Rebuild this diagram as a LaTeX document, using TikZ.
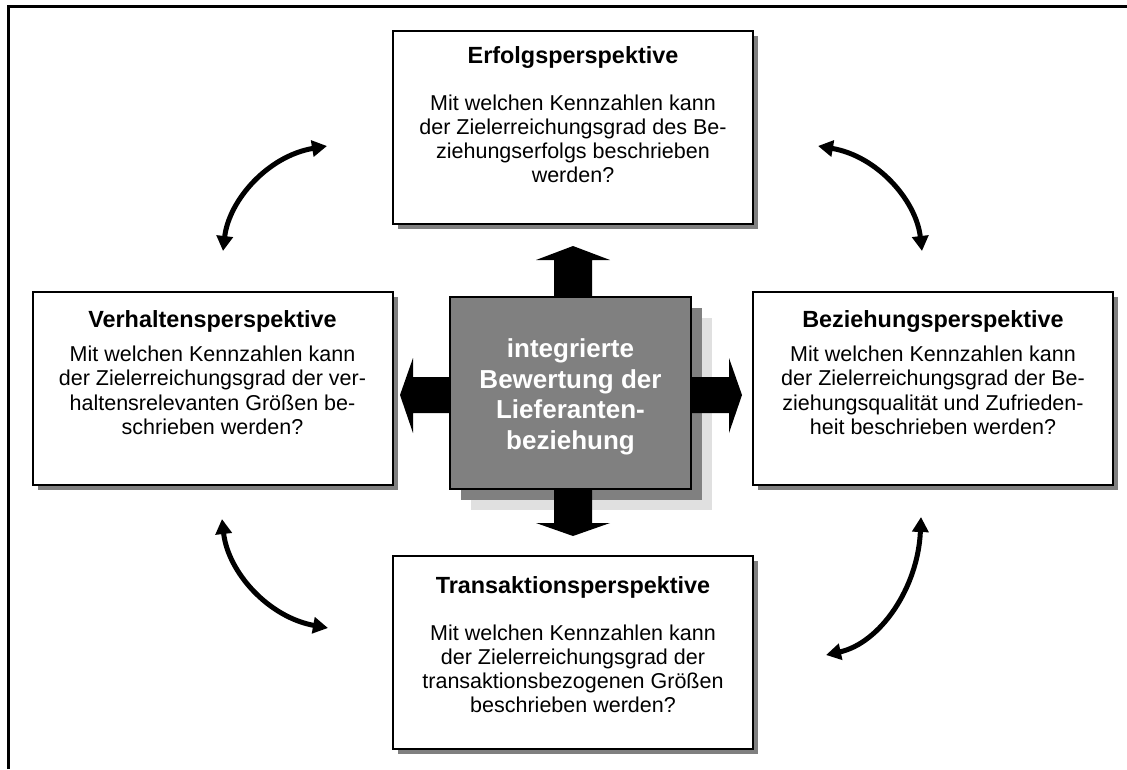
\documentclass[tikz,border=0pt]{standalone}
\usepackage{fontspec}
\setmainfont{Liberation Sans}
\usetikzlibrary{arrows.meta,shadows,calc}
\definecolor{shadowgray}{HTML}{808080}
\definecolor{coregray}{HTML}{808080}
\definecolor{haze}{HTML}{E0E0E0}
\begin{document}
\begin{tikzpicture}[x=1pt,y=-1pt,
  persp/.style={draw=black, line width=2pt, fill=white,
    minimum width=360pt, minimum height=193pt, inner sep=0pt,
    drop shadow={shadow xshift=5pt, shadow yshift=-5pt, fill=shadowgray, opacity=1}},
  ptitle/.style={font=\fontsize{23.4}{27}\selectfont\bfseries, inner sep=0pt},
  pbody/.style={font=\fontsize{21.5}{24.2}\selectfont, align=center, inner sep=0pt, anchor=north},
  core/.style={draw=black, line width=1.5pt, fill=coregray,
    minimum width=241pt, minimum height=192pt,
    drop shadow={shadow xshift=21pt, shadow yshift=-21pt, fill=haze, opacity=1},
    drop shadow={shadow xshift=10.5pt, shadow yshift=-10.5pt, fill=shadowgray, opacity=1}},
  coretext/.style={text=white, align=center, inner sep=0pt,
    font=\fontsize{26}{30.5}\selectfont\bfseries},
  swing/.style={line width=5pt,
    {Triangle[length=15pt,width=16pt]}-{Triangle[length=15pt,width=16pt]}},
  block/.style={fill=black}
]
\useasboundingbox (0,0) rectangle (1127,769);

% outer frame
\draw[line width=2.5pt] (8.5,769) -- (8.5,6.5) -- (1127,6.5);

% four perspective boxes
\node[persp] (erfolg)      at (573,127)   {};
\node[persp] (verhalten)   at (212.5,388.5) {};
\node[persp] (beziehung)   at (933,388.5) {};
\node[persp] (transaktion) at (573,652)   {};

\node[ptitle] (erfolg-title) at ($(erfolg.north)+(0,28)$) {Erfolgsperspektive};
\node[pbody]  (erfolg-body)  at ($(erfolg.north)+(0,65)$)
  {Mit welchen Kennzahlen kann\\der Zielerreichungsgrad des Be-\\ziehungserfolgs beschrieben\\werden?};

\node[ptitle] (verhalten-title) at ($(verhalten.north)+(0,30)$) {Verhaltensperspektive};
\node[pbody]  (verhalten-body)  at ($(verhalten.north)+(0,55)$)
  {Mit welchen Kennzahlen kann\\der Zielerreichungsgrad der ver-\\haltensrelevanten Größen be-\\schrieben werden?};

\node[ptitle] (beziehung-title) at ($(beziehung.north)+(0,30)$) {Beziehungsperspektive};
\node[pbody]  (beziehung-body)  at ($(beziehung.north)+(0,55)$)
  {Mit welchen Kennzahlen kann\\der Zielerreichungsgrad der Be-\\ziehungsqualität und Zufrieden-\\heit beschrieben werden?};

\node[ptitle] (transaktion-title) at ($(transaktion.north)+(0,33)$) {Transaktionsperspektive};
\node[pbody]  (transaktion-body)  at ($(transaktion.north)+(0,70)$)
  {Mit welchen Kennzahlen kann\\der Zielerreichungsgrad der\\transaktionsbezogenen Größen\\beschrieben werden?};

% central box with its two stacked shadows
\node[core] (core) at (570.5,393) {};
\node[coretext] (core-text) at ($(core.center)+(0,4)$) {integrierte\\Bewertung der\\Lieferanten-\\beziehung};

% block arrows leaving the central box
\fill[block] (554,297) -- (554,260) -- (536,260) -- (573,246) -- (610,260) -- (592,260) -- (592,297) -- cycle;
\fill[block] (554,489) -- (554,523) -- (536,523) -- (573,536) -- (610,523) -- (592,523) -- (592,489) -- cycle;
\fill[block] (450,377) -- (413,377) -- (413,358) -- (400,395) -- (413,433) -- (413,413) -- (450,413) -- cycle;
\fill[block] (691,377) -- (729,377) -- (729,358) -- (742,395) -- (729,433) -- (729,413) -- (691,413) -- cycle;

% curved double arrows between neighbouring perspectives
\coordinate (ulA) at (223,251);  \coordinate (ulB) at (327,146);
\coordinate (urA) at (922,251);  \coordinate (urB) at (818,146);
\coordinate (llA) at (222,519);  \coordinate (llB) at (328,628);
\coordinate (lrA) at (921,517);  \coordinate (lrB) at (826,655);
\draw[swing] (ulA) .. controls (229,200) and (268,156) .. (ulB);
\draw[swing] (urA) .. controls (916,200) and (877,156) .. (urB);
\draw[swing] (llA) .. controls (228,572) and (268,617) .. (llB);
\draw[swing] (lrA) .. controls (918,588) and (880,643) .. (lrB);
\end{tikzpicture}
\end{document}
